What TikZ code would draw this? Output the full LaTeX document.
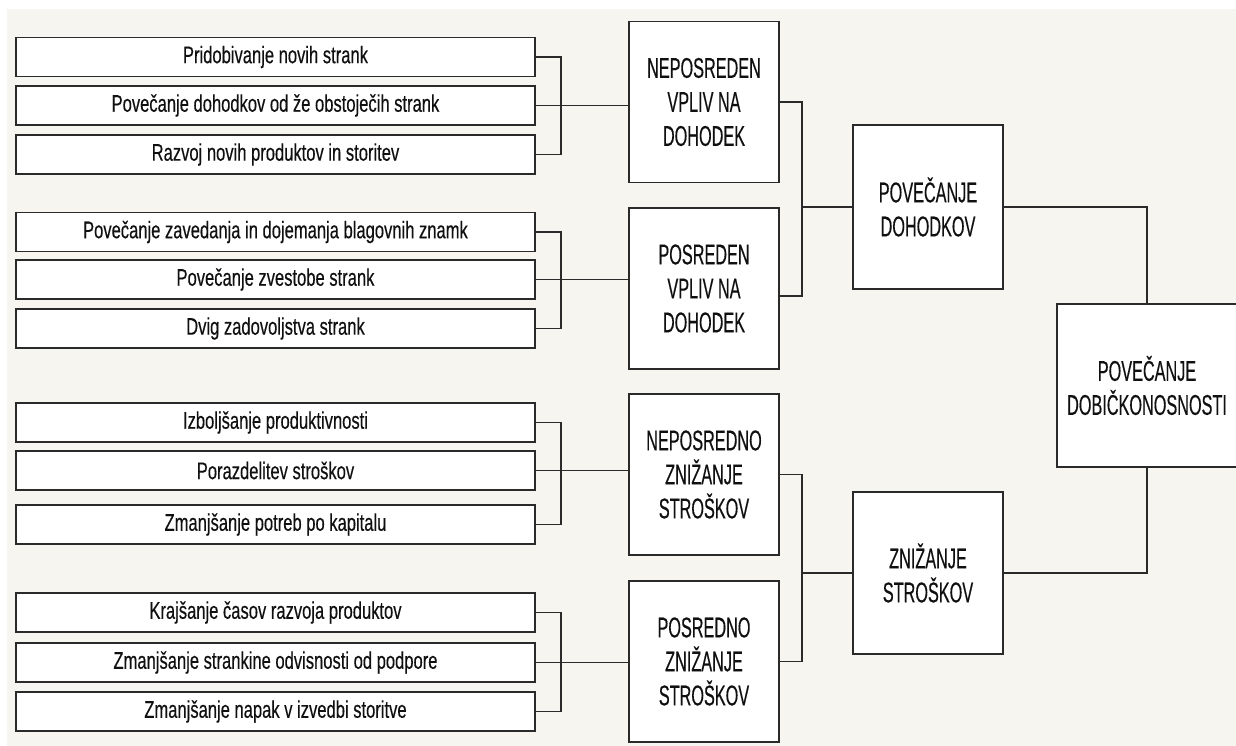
\documentclass[tikz,border=0pt]{standalone}
\usepackage{fontspec}
\setmainfont{Liberation Sans}
\newfontfamily\leaffont[FakeStretch=0.69,FakeBold=0.3]{Liberation Sans}
\newfontfamily\bigfont[FakeStretch=0.57,FakeBold=0.3]{Liberation Sans}
\definecolor{bg}{HTML}{F7F5F0}
\definecolor{ln}{HTML}{2A2A2A}
\definecolor{tx}{HTML}{101010}
\begin{document}
\begin{tikzpicture}[x=1pt,y=-1pt,
  leaf/.style={draw=ln, line width=1.9pt, fill=white, minimum width=519pt, minimum height=39pt, inner sep=0pt, text=tx, font=\leaffont\fontsize{24}{28}\selectfont},
  mid/.style={draw=ln, line width=1.9pt, fill=white, minimum width=150pt, minimum height=161pt, inner sep=0pt, align=center, text=tx, font=\bigfont\fontsize{28.5}{34}\selectfont},
  conn/.style={draw=ln, line width=1.9pt}]
\useasboundingbox (0,0) rectangle (1236,746);
\fill[white] (0,0) rectangle (1236,746);
\fill[bg] (7,9) rectangle (1236,746);

\node[leaf] (a1) at (275.5,57) {Pridobivanje novih strank};
\node[leaf] (a2) at (275.5,105.5) {Povečanje dohodkov od že obstoječih strank};
\node[leaf] (a3) at (275.5,154.5) {Razvoj novih produktov in storitev};
\node[leaf] (b1) at (275.5,232) {Povečanje zavedanja in dojemanja blagovnih znamk};
\node[leaf] (b2) at (275.5,279.5) {Povečanje zvestobe strank};
\node[leaf] (b3) at (275.5,328.5) {Dvig zadovoljstva strank};
\node[leaf] (c1) at (275.5,422.5) {Izboljšanje produktivnosti};
\node[leaf] (c2) at (275.5,470.5) {Porazdelitev stroškov};
\node[leaf] (c3) at (275.5,524.5) {Zmanjšanje potreb po kapitalu};
\node[leaf] (e1) at (275.5,612.5) {Krajšanje časov razvoja produktov};
\node[leaf] (e2) at (275.5,662.5) {Zmanjšanje strankine odvisnosti od podpore};
\node[leaf] (e3) at (275.5,711.5) {Zmanjšanje napak v izvedbi storitve};

\node[mid] (m1) at (704,102) {NEPOSREDEN\\VPLIV NA\\DOHODEK};
\node[mid] (m2) at (704,288.5) {POSREDEN\\VPLIV NA\\DOHODEK};
\node[mid] (m3) at (704,474.5) {NEPOSREDNO\\ZNIŽANJE\\STROŠKOV};
\node[mid] (m4) at (704,661.5) {POSREDNO\\ZNIŽANJE\\STROŠKOV};
\node[mid, minimum height=164pt] (d) at (928,207) {POVEČANJE\\DOHODKOV};
\node[mid, minimum height=162pt] (z) at (928,573) {ZNIŽANJE\\STROŠKOV};
\node[mid, minimum width=180pt, minimum height=163pt] (p) at (1147,385.5) {POVEČANJE\\DOBIČKONOSNOSTI};

\foreach \g/\m in {a/m1,b/m2,c/m3,e/m4} {
  \draw[conn] (\g1.east) -| ([xshift=25pt]\g2.east) |- (\g3.east);
  \draw[conn] (\g2.east) -- (\g2.east -| \m.west);
}

\coordinate (j1) at ([xshift=-50pt]d.west);
\draw[conn] (m1.east) -| (j1) |- ([yshift=-7.5pt]m2.east);
\draw[conn] (j1) -- (d.west);
\coordinate (j2) at ([xshift=-50pt]z.west);
\draw[conn] (m3.east) -| (j2) |- (m4.east);
\draw[conn] (j2) -- (z.west);
\draw[conn] (d.east) -| (p.north);
\draw[conn] (z.east) -| (p.south);
\end{tikzpicture}
\end{document}
